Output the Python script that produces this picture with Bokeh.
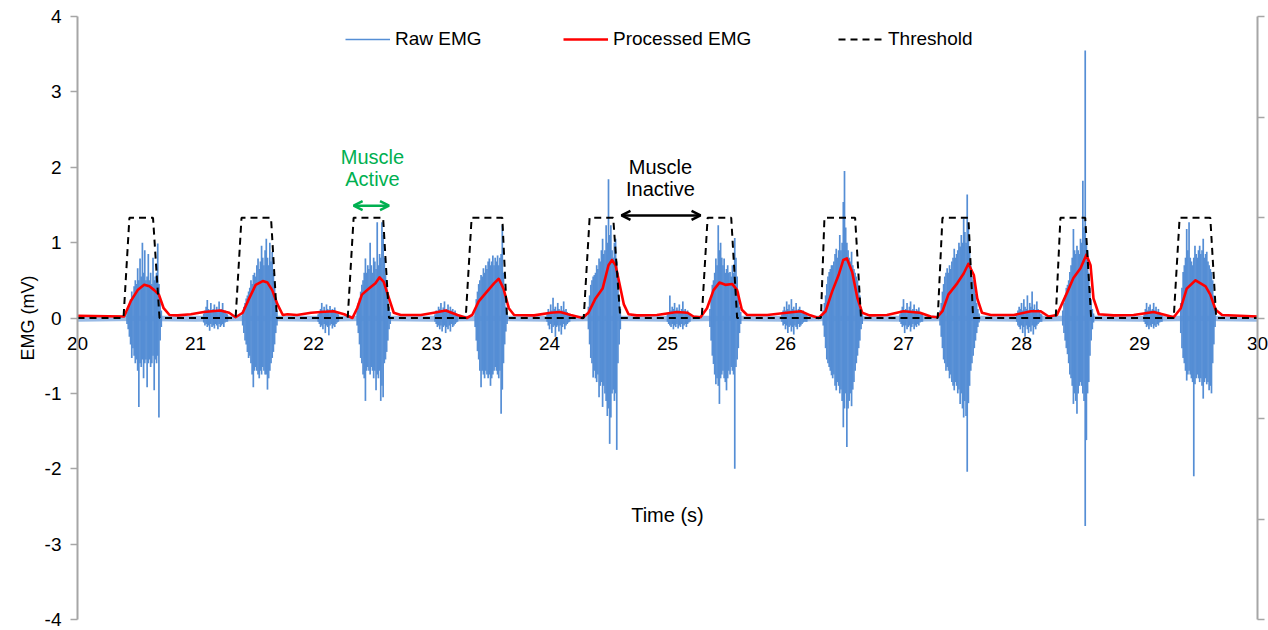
import numpy as np
from bokeh.plotting import figure
from bokeh.models import (Range1d, LinearAxis, FixedTicker, Legend, LegendItem,
                          Label, Arrow, OpenHead, ColumnDataSource)
from bokeh.embed import file_html
from bokeh.resources import INLINE

# ---------------- data ----------------
x_ticks = [20, 21, 22, 23, 24, 25, 26, 27, 28, 29, 30]
y_ticks = [-4, -3, -2, -1, 0, 1, 2, 3, 4]
right_ticks = [-3, -2, -1, 0, 1, 2, 3]

# raw EMG: per-burst envelope (max / min per 0.01 s bin)
raw_step = 0.01
burst_start = [20.42, 21.40, 22.37, 23.37, 24.33, 25.36, 26.32, 27.31, 28.35, 29.35]
burst_hi = [
    [0.08, 0.12, 0.18, 0.25, 0.35, 0.3, 0.42, 0.5, 0.45, 0.66, 0.5, 0.79, 0.55, 1.0, 0.6, 0.9, 0.5, 0.55, 0.85, 0.5, 0.6, 0.45, 0.8, 0.5, 0.55, 0.6, 0.99, 0.45, 0.25, 0.1],
    [0.1, 0.15, 0.2, 0.26, 0.3, 0.35, 0.4, 0.5, 0.45, 0.57, 0.6, 0.55, 0.7, 0.79, 0.65, 0.75, 0.96, 0.8, 0.7, 0.9, 1.05, 0.8, 0.7, 1.0, 0.75, 0.88, 0.6, 0.45, 0.25, 0.1],
    [0.1, 0.2, 0.26, 0.35, 0.44, 0.5, 0.6, 0.79, 0.6, 0.7, 0.65, 1.0, 0.7, 0.6, 0.8, 0.75, 0.65, 1.27, 0.7, 0.85, 0.8, 1.27, 1.1, 0.8, 0.57, 0.45, 0.3, 0.15, 0.08],
    [0.12, 0.25, 0.35, 0.45, 0.5, 0.57, 0.55, 0.66, 0.6, 0.7, 0.65, 0.75, 0.79, 0.7, 0.75, 0.83, 0.7, 0.8, 0.75, 0.83, 0.7, 0.8, 0.85, 1.23, 0.6, 0.32, 0.15, 0.08],
    [0.15, 0.3, 0.44, 0.5, 0.55, 0.57, 0.6, 0.7, 0.65, 0.79, 0.75, 0.9, 1.05, 0.85, 0.9, 1.23, 1.0, 1.84, 1.1, 1.23, 0.9, 0.8, 1.0, 1.05, 0.75, 0.6, 0.3, 0.12],
    [0.12, 0.25, 0.44, 0.5, 0.6, 0.79, 0.7, 1.23, 0.9, 1.0, 0.8, 0.7, 0.79, 0.6, 0.65, 0.7, 0.6, 0.61, 0.55, 0.7, 0.6, 1.06, 0.8, 0.55, 0.35, 0.15, 0.08],
    [0.1, 0.2, 0.3, 0.45, 0.55, 0.61, 0.65, 0.7, 0.7, 0.75, 0.85, 0.92, 0.8, 0.9, 1.1, 0.9, 1.0, 1.54, 1.95, 1.2, 1.0, 0.9, 0.8, 0.75, 0.88, 0.7, 0.65, 0.6, 0.55, 0.5, 0.4, 0.3, 0.15, 0.08],
    [0.1, 0.2, 0.35, 0.45, 0.55, 0.6, 0.66, 0.6, 0.7, 0.65, 0.75, 0.8, 0.92, 0.8, 0.85, 0.9, 1.0, 0.95, 1.1, 1.0, 1.32, 1.14, 1.0, 1.64, 1.2, 0.9, 0.7, 0.55, 0.5, 0.45, 0.32, 0.2, 0.12, 0.06],
    [0.1, 0.2, 0.3, 0.4, 0.44, 0.5, 0.61, 0.7, 0.8, 1.18, 0.9, 0.85, 0.96, 0.9, 0.85, 1.05, 1.0, 1.82, 1.2, 3.55, 1.0, 0.9, 0.6, 0.4, 0.25, 0.12, 0.06],
    [0.2, 0.4, 0.61, 0.7, 0.8, 1.18, 0.9, 1.27, 0.8, 0.75, 0.7, 0.8, 0.96, 0.85, 0.8, 0.9, 0.96, 0.85, 0.9, 1.05, 0.8, 0.85, 0.88, 0.75, 0.7, 0.65, 0.61, 0.5, 0.3, 0.12],
]
burst_lo = [
    [-0.08, -0.15, -0.25, -0.35, -0.53, -0.4, -0.5, -0.6, -0.55, -0.7, -1.18, -0.6, -0.65, -0.55, -0.8, -0.6, -0.55, -0.92, -0.6, -0.55, -0.65, -0.6, -0.5, -0.96, -0.55, -0.6, -0.5, -1.32, -0.3, -0.12],
    [-0.1, -0.2, -0.3, -0.35, -0.45, -0.53, -0.5, -0.6, -0.75, -0.92, -0.7, -0.65, -0.7, -0.75, -0.8, -0.7, -0.75, -0.65, -0.7, -0.75, -0.75, -0.95, -0.8, -0.7, -0.6, -0.53, -0.45, -0.35, -0.2, -0.1],
    [-0.1, -0.2, -0.35, -0.53, -0.6, -0.75, -0.8, -1.1, -0.7, -0.65, -0.7, -0.75, -0.65, -0.7, -0.8, -0.7, -0.96, -0.75, -0.8, -0.7, -1.1, -0.9, -1.05, -0.6, -0.55, -0.45, -0.3, -0.15, -0.08],
    [-0.12, -0.3, -0.44, -0.55, -0.7, -0.92, -0.7, -0.75, -0.8, -0.7, -0.75, -0.8, -0.75, -0.9, -0.8, -0.75, -0.7, -0.65, -0.7, -0.75, -0.8, -0.7, -1.27, -0.95, -0.6, -0.35, -0.18, -0.08],
    [-0.15, -0.35, -0.53, -0.6, -0.79, -0.7, -0.8, -0.85, -0.75, -1.05, -0.9, -0.85, -1.18, -0.9, -1.0, -1.1, -1.3, -1.2, -1.67, -1.32, -1.0, -0.95, -1.1, -1.0, -1.75, -0.6, -0.35, -0.15],
    [-0.12, -0.3, -0.5, -0.61, -0.75, -0.88, -0.8, -0.9, -1.14, -0.8, -0.75, -0.7, -0.8, -0.85, -0.96, -0.8, -0.7, -0.75, -0.65, -0.7, -0.75, -2.0, -0.65, -0.55, -0.4, -0.2, -0.08],
    [-0.1, -0.25, -0.4, -0.55, -0.6, -0.65, -0.7, -0.76, -0.8, -0.75, -0.9, -0.96, -0.85, -0.9, -1.0, -0.95, -1.1, -1.45, -1.2, -1.0, -1.71, -1.2, -1.1, -1.0, -1.17, -0.95, -0.85, -0.7, -0.6, -0.5, -0.4, -0.3, -0.15, -0.08],
    [-0.1, -0.25, -0.4, -0.55, -0.6, -0.7, -0.65, -0.7, -0.8, -0.75, -0.85, -0.9, -0.96, -0.85, -0.9, -1.0, -0.95, -1.14, -1.0, -1.2, -1.32, -1.1, -1.3, -2.04, -1.13, -0.9, -0.7, -0.6, -0.5, -0.4, -0.3, -0.2, -0.12, -0.06],
    [-0.1, -0.2, -0.3, -0.4, -0.48, -0.6, -0.75, -0.8, -0.9, -1.14, -1.0, -1.1, -1.27, -1.0, -0.9, -0.85, -0.9, -1.0, -1.1, -2.76, -1.62, -1.0, -0.85, -0.5, -0.3, -0.15, -0.06],
    [-0.2, -0.4, -0.53, -0.6, -0.7, -0.83, -0.75, -0.7, -0.75, -0.8, -0.85, -2.1, -0.88, -0.8, -0.75, -0.8, -0.85, -0.8, -0.9, -1.07, -0.85, -0.8, -0.88, -0.85, -0.96, -0.9, -1.0, -0.6, -0.35, -0.12],
]
# small bursts of activity between contractions
cluster_start = [21.07, 22.04, 23.03, 23.98, 25.00, 25.97, 26.97, 27.96, 29.04]
cluster_hi = [
    [0.06, 0.1, 0.15, 0.24, 0.12, 0.1, 0.2, 0.08, 0.12, 0.18, 0.1, 0.15, 0.08, 0.22, 0.1, 0.12, 0.2, 0.08, 0.1, 0.06, 0.05],
    [0.05, 0.08, 0.12, 0.2, 0.1, 0.15, 0.08, 0.18, 0.12, 0.1, 0.16, 0.08, 0.12, 0.1, 0.14, 0.07, 0.06, 0.05],
    [0.05, 0.1, 0.08, 0.15, 0.12, 0.2, 0.1, 0.14, 0.22, 0.1, 0.12, 0.18, 0.08, 0.15, 0.1, 0.12, 0.08, 0.1, 0.06, 0.05],
    [0.05, 0.12, 0.08, 0.18, 0.1, 0.27, 0.12, 0.15, 0.1, 0.2, 0.12, 0.08, 0.16, 0.1, 0.22, 0.1, 0.12, 0.08, 0.06, 0.05],
    [0.05, 0.08, 0.3, 0.1, 0.15, 0.12, 0.2, 0.1, 0.14, 0.1, 0.18, 0.08, 0.12, 0.22, 0.1, 0.12, 0.08, 0.1, 0.06, 0.05],
    [0.05, 0.1, 0.15, 0.1, 0.22, 0.12, 0.18, 0.1, 0.25, 0.12, 0.15, 0.1, 0.2, 0.08, 0.12, 0.15, 0.1, 0.08, 0.1, 0.06, 0.05, 0.05],
    [0.05, 0.1, 0.15, 0.25, 0.1, 0.12, 0.2, 0.1, 0.15, 0.22, 0.1, 0.12, 0.18, 0.08, 0.12, 0.1, 0.14, 0.08, 0.06, 0.05],
    [0.05, 0.1, 0.15, 0.12, 0.2, 0.1, 0.25, 0.15, 0.12, 0.3, 0.1, 0.2, 0.15, 0.35, 0.12, 0.18, 0.1, 0.22, 0.12, 0.08, 0.06, 0.05],
    [0.05, 0.12, 0.2, 0.1, 0.15, 0.18, 0.1, 0.12, 0.2, 0.1, 0.15, 0.08, 0.12, 0.08, 0.06, 0.05],
]
cluster_lo = [
    [-0.06, -0.1, -0.08, -0.12, -0.1, -0.17, -0.08, -0.12, -0.1, -0.14, -0.08, -0.1, -0.15, -0.08, -0.12, -0.1, -0.08, -0.12, -0.06, -0.05, -0.05],
    [-0.05, -0.08, -0.12, -0.1, -0.15, -0.08, -0.2, -0.1, -0.12, -0.23, -0.1, -0.08, -0.14, -0.1, -0.12, -0.08, -0.06, -0.05],
    [-0.05, -0.08, -0.12, -0.1, -0.15, -0.1, -0.18, -0.12, -0.1, -0.2, -0.12, -0.15, -0.1, -0.18, -0.08, -0.12, -0.1, -0.08, -0.06, -0.05],
    [-0.05, -0.1, -0.15, -0.08, -0.2, -0.12, -0.1, -0.25, -0.12, -0.1, -0.18, -0.1, -0.22, -0.12, -0.08, -0.15, -0.1, -0.08, -0.06, -0.05],
    [-0.05, -0.08, -0.1, -0.12, -0.08, -0.15, -0.1, -0.12, -0.08, -0.14, -0.1, -0.12, -0.08, -0.15, -0.1, -0.08, -0.12, -0.08, -0.06, -0.05],
    [-0.05, -0.1, -0.08, -0.15, -0.1, -0.2, -0.12, -0.1, -0.18, -0.12, -0.22, -0.1, -0.12, -0.15, -0.08, -0.12, -0.1, -0.08, -0.06, -0.05, -0.05, -0.05],
    [-0.05, -0.08, -0.12, -0.1, -0.2, -0.1, -0.15, -0.12, -0.1, -0.18, -0.12, -0.08, -0.15, -0.1, -0.12, -0.08, -0.1, -0.06, -0.05, -0.05],
    [-0.05, -0.1, -0.12, -0.15, -0.1, -0.2, -0.12, -0.25, -0.1, -0.15, -0.2, -0.12, -0.18, -0.1, -0.22, -0.12, -0.15, -0.1, -0.08, -0.06, -0.05, -0.05],
    [-0.05, -0.08, -0.12, -0.1, -0.15, -0.1, -0.12, -0.08, -0.14, -0.1, -0.12, -0.08, -0.1, -0.06, -0.05, -0.05],
]
# baseline noise band of the raw signal
base_t = [20.0, 20.5, 21.0, 21.5, 22.0, 22.5, 23.0, 23.5, 24.0, 24.5, 25.0, 25.5, 26.0, 26.5, 27.0, 27.5, 28.0, 28.5, 29.0, 29.5, 30.0]
base_hi = [0.03, 0.03, 0.03, 0.03, 0.03, 0.03, 0.03, 0.03, 0.03, 0.03, 0.03, 0.03, 0.03, 0.03, 0.03, 0.03, 0.03, 0.03, 0.03, 0.03, 0.03]
base_lo = [-0.05, -0.04, -0.05, -0.04, -0.05, -0.04, -0.05, -0.04, -0.05, -0.04, -0.05, -0.04, -0.05, -0.04, -0.05, -0.04, -0.05, -0.04, -0.05, -0.04, -0.05]

# processed (filtered) EMG
proc_t = [20.00, 20.395, 20.45, 20.51, 20.565, 20.61, 20.65, 20.69, 20.73, 20.78, 20.85, 20.96, 21.07, 21.21, 21.285,
          21.34, 21.40, 21.455, 21.51, 21.57, 21.61, 21.65, 21.695, 21.74, 21.78, 21.86, 21.98, 22.06, 22.17, 22.26,
          22.33, 22.37, 22.41, 22.47, 22.525, 22.56, 22.595, 22.64, 22.68, 22.74, 22.91, 23.02, 23.12, 23.22,
          23.30, 23.345, 23.40, 23.47, 23.53, 23.57, 23.61, 23.655, 23.70, 23.87, 24.01, 24.09, 24.18,
          24.28, 24.33, 24.39, 24.45, 24.50, 24.53, 24.56, 24.595, 24.63, 24.67, 24.74, 24.91, 25.08, 25.17, 25.22,
          25.28, 25.335, 25.39, 25.44, 25.49, 25.55, 25.59, 25.63, 25.675, 25.845, 26.01, 26.13, 26.21,
          26.28, 26.34, 26.395, 26.45, 26.49, 26.52, 26.565, 26.61, 26.65, 26.71, 26.86, 27.00, 27.14, 27.23,
          27.285, 27.33, 27.38, 27.455, 27.51, 27.55, 27.596, 27.625, 27.665, 27.74, 27.935, 28.08, 28.16, 28.23,
          28.30, 28.39, 28.44, 28.50, 28.55, 28.585, 28.61, 28.655, 28.78, 28.95, 29.12, 29.22,
          29.29, 29.35, 29.40, 29.475, 29.56, 29.60, 29.645, 29.70, 30.00]
proc_v = [0.03, 0.02, 0.22, 0.37, 0.44, 0.42, 0.37, 0.31, 0.13, 0.04, 0.035, 0.05, 0.08, 0.10, 0.07,
          0.01, 0.07, 0.26, 0.44, 0.49, 0.47, 0.37, 0.18, 0.04, 0.05, 0.04, 0.07, 0.08, 0.09, 0.05,
          0.0, 0.13, 0.31, 0.39, 0.46, 0.54, 0.48, 0.26, 0.07, 0.04, 0.04, 0.07, 0.10, 0.04,
          0.0, 0.04, 0.22, 0.35, 0.46, 0.52, 0.39, 0.13, 0.04, 0.035, 0.07, 0.08, 0.04,
          0.0, 0.07, 0.26, 0.39, 0.70, 0.77, 0.70, 0.44, 0.18, 0.05, 0.035, 0.04, 0.08, 0.07, 0.02,
          0.01, 0.13, 0.37, 0.47, 0.44, 0.45, 0.37, 0.11, 0.04, 0.04, 0.07, 0.09, 0.035,
          0.0, 0.09, 0.35, 0.57, 0.77, 0.79, 0.61, 0.26, 0.07, 0.035, 0.04, 0.09, 0.07, 0.02,
          0.01, 0.09, 0.31, 0.46, 0.59, 0.72, 0.57, 0.26, 0.07, 0.04, 0.04, 0.09, 0.09, 0.02,
          0.04, 0.35, 0.53, 0.66, 0.84, 0.70, 0.26, 0.05, 0.035, 0.04, 0.08, 0.04,
          0.01, 0.13, 0.39, 0.50, 0.42, 0.31, 0.11, 0.04, 0.02]

# threshold (on/off detection)
thr_t = [20.0,
         20.39, 20.44, 20.64, 20.695,
         21.34, 21.39, 21.64, 21.69,
         22.29, 22.34, 22.59, 22.64,
         23.29, 23.34, 23.60, 23.64,
         24.29, 24.34, 24.54, 24.60,
         25.29, 25.34, 25.54, 25.59,
         26.30, 26.33, 26.59, 26.64,
         27.29, 27.33, 27.55, 27.59,
         28.29, 28.33, 28.54, 28.59,
         29.29, 29.34, 29.60, 29.65,
         30.0]
thr_v = [0.0,
         0.0, 1.33, 1.33, 0.0,
         0.0, 1.33, 1.33, 0.0,
         0.0, 1.33, 1.33, 0.0,
         0.0, 1.33, 1.33, 0.0,
         0.0, 1.33, 1.33, 0.0,
         0.0, 1.33, 1.33, 0.0,
         0.0, 1.33, 1.33, 0.0,
         0.0, 1.33, 1.33, 0.0,
         0.0, 1.33, 1.33, 0.0,
         0.0, 1.33, 1.33, 0.0,
         0.0]

# ---------------- build raw segments ----------------
seg_t, seg_hi, seg_lo = [], [], []
for starts, his, los in ((burst_start, burst_hi, burst_lo), (cluster_start, cluster_hi, cluster_lo)):
    for s, h, l in zip(starts, his, los):
        for i, (a, b) in enumerate(zip(h, l)):
            seg_t.append(s + i * raw_step)
            seg_hi.append(a)
            seg_lo.append(b)
raw_src = ColumnDataSource(dict(t=seg_t, hi=seg_hi, lo=seg_lo))

FONT = "Liberation Sans"
BLUE = "#558ED5"
GRAY = "#A6A6A6"

# page geometry: the axes box (x 20..30, y -4..4) sits at px x 77..1257, y 16..619
W, H = 1268, 630
L, R, T, B = 77, 1257, 16, 619
sx = (R - L) / (x_ticks[-1] - x_ticks[0])
sy = (B - T) / (y_ticks[-1] - y_ticks[0])
x_rng = Range1d(x_ticks[0] - L / sx, x_ticks[-1] + (W - R) / sx)
y_rng = Range1d(y_ticks[0] - (H - B) / sy, y_ticks[-1] + T / sy)
sy2 = (B - T) / (right_ticks[-1] - right_ticks[0])
y2_rng = Range1d(right_ticks[0] - (H - B) / sy2, right_ticks[-1] + T / sy2)

p = figure(width=W, height=H, x_range=x_rng, y_range=y_rng,
           output_backend="svg", toolbar_location=None,
           min_border_left=0, min_border_right=0, min_border_top=0, min_border_bottom=0)
p.outline_line_color = None
p.xgrid.grid_line_color = None
p.ygrid.grid_line_color = None
p.background_fill_color = "white"
p.border_fill_color = "white"

# glyphs
p.varea(x=base_t, y1=base_lo, y2=base_hi, fill_color=BLUE, fill_alpha=0.6)
r_raw = p.segment(x0="t", y0="lo", x1="t", y1="hi", source=raw_src, line_color=BLUE, line_width=1.7)
r_proc = p.line(proc_t, proc_v, line_color="#FF0000", line_width=2.6, line_join="round")
r_thr = p.line(thr_t, thr_v, line_color="black", line_width=2, line_dash="7 5")

# x axis crossing at y = 0
xa = p.xaxis[0]
xa.fixed_location = 0
xa.bounds = (x_ticks[0], x_ticks[-1])
xa.ticker = FixedTicker(ticks=x_ticks)
xa.major_tick_out = 0
xa.major_tick_in = 0
xa.minor_tick_line_color = None
xa.axis_line_color = None
xa.major_label_standoff = 19
xa.major_label_text_font = FONT
xa.major_label_text_font_size = "19px"
xa.major_label_text_color = "black"
xa.axis_label = "Time (s)"
xa.axis_label_standoff = 150
xa.axis_label_text_font = FONT
xa.axis_label_text_font_size = "20px"
xa.axis_label_text_font_style = "normal"
xa.axis_label_text_color = "black"

# left y axis at x = 20
ya = p.yaxis[0]
ya.fixed_location = x_ticks[0]
ya.bounds = (y_ticks[0], y_ticks[-1])
ya.ticker = FixedTicker(ticks=y_ticks)
ya.major_label_overrides = {v: str(v) for v in y_ticks}
ya.major_tick_out = 7
ya.major_tick_in = 0
ya.minor_tick_line_color = None
ya.axis_line_color = GRAY
ya.axis_line_width = 2
ya.major_tick_line_color = GRAY
ya.major_tick_line_width = 1.5
ya.major_label_standoff = 9
ya.major_label_text_font = FONT
ya.major_label_text_font_size = "19px"
ya.major_label_text_color = "black"
ya.axis_label = "EMG (mV)"
ya.axis_label_standoff = 4
ya.axis_label_text_font = FONT
ya.axis_label_text_font_size = "18px"
ya.axis_label_text_font_style = "normal"
ya.axis_label_text_color = "black"

# right (secondary) axis at x = 30, no labels
p.extra_y_ranges = {"right": y2_rng}
ra = LinearAxis(y_range_name="right", ticker=FixedTicker(ticks=right_ticks))
ra.fixed_location = x_ticks[-1]
ra.bounds = (right_ticks[0], right_ticks[-1])
ra.major_label_overrides = {v: "" for v in right_ticks}
ra.major_tick_out = 7
ra.major_tick_in = 0
ra.minor_tick_line_color = None
ra.axis_line_color = GRAY
ra.axis_line_width = 2
ra.major_tick_line_color = GRAY
ra.major_tick_line_width = 1.5
ra.major_label_text_font_size = "1px"
p.add_layout(ra, "right")

# legends, one per entry
for label, rend, vx in (("Raw EMG", r_raw, 345), ("Processed EMG", r_proc, 563), ("Threshold", r_thr, 838)):
    lg = Legend(items=[LegendItem(label=label, renderers=[rend])], location=(vx, 580),
                orientation="horizontal", border_line_color=None, background_fill_alpha=0,
                padding=0, margin=0, glyph_width=45, label_standoff=5,
                label_text_font=FONT, label_text_font_size="19px", label_text_color="black")
    p.add_layout(lg)

# annotations
GREEN = "#00B050"
for txt, yy in (("Muscle", 2.14), ("Active", 1.84)):
    p.add_layout(Label(x=22.5, y=yy, text=txt, text_align="center", text_baseline="middle",
                       text_color=GREEN, text_font=FONT, text_font_size="20px"))
for txt, yy in (("Muscle", 2.0), ("Inactive", 1.71)):
    p.add_layout(Label(x=24.94, y=yy, text=txt, text_align="center", text_baseline="middle",
                       text_color="black", text_font=FONT, text_font_size="20px"))

p.add_layout(Arrow(start=OpenHead(size=9, line_color=GREEN, line_width=2.5),
                   end=OpenHead(size=9, line_color=GREEN, line_width=2.5),
                   x_start=22.34, y_start=1.49, x_end=22.64, y_end=1.49,
                   line_color=GREEN, line_width=2.5))
p.add_layout(Arrow(start=OpenHead(size=9, line_color="black", line_width=2.5),
                   end=OpenHead(size=9, line_color="black", line_width=2.5),
                   x_start=24.61, y_start=1.36, x_end=25.28, y_end=1.36,
                   line_color="black", line_width=2.5))

open("out.html", "w").write(file_html(p, INLINE))
